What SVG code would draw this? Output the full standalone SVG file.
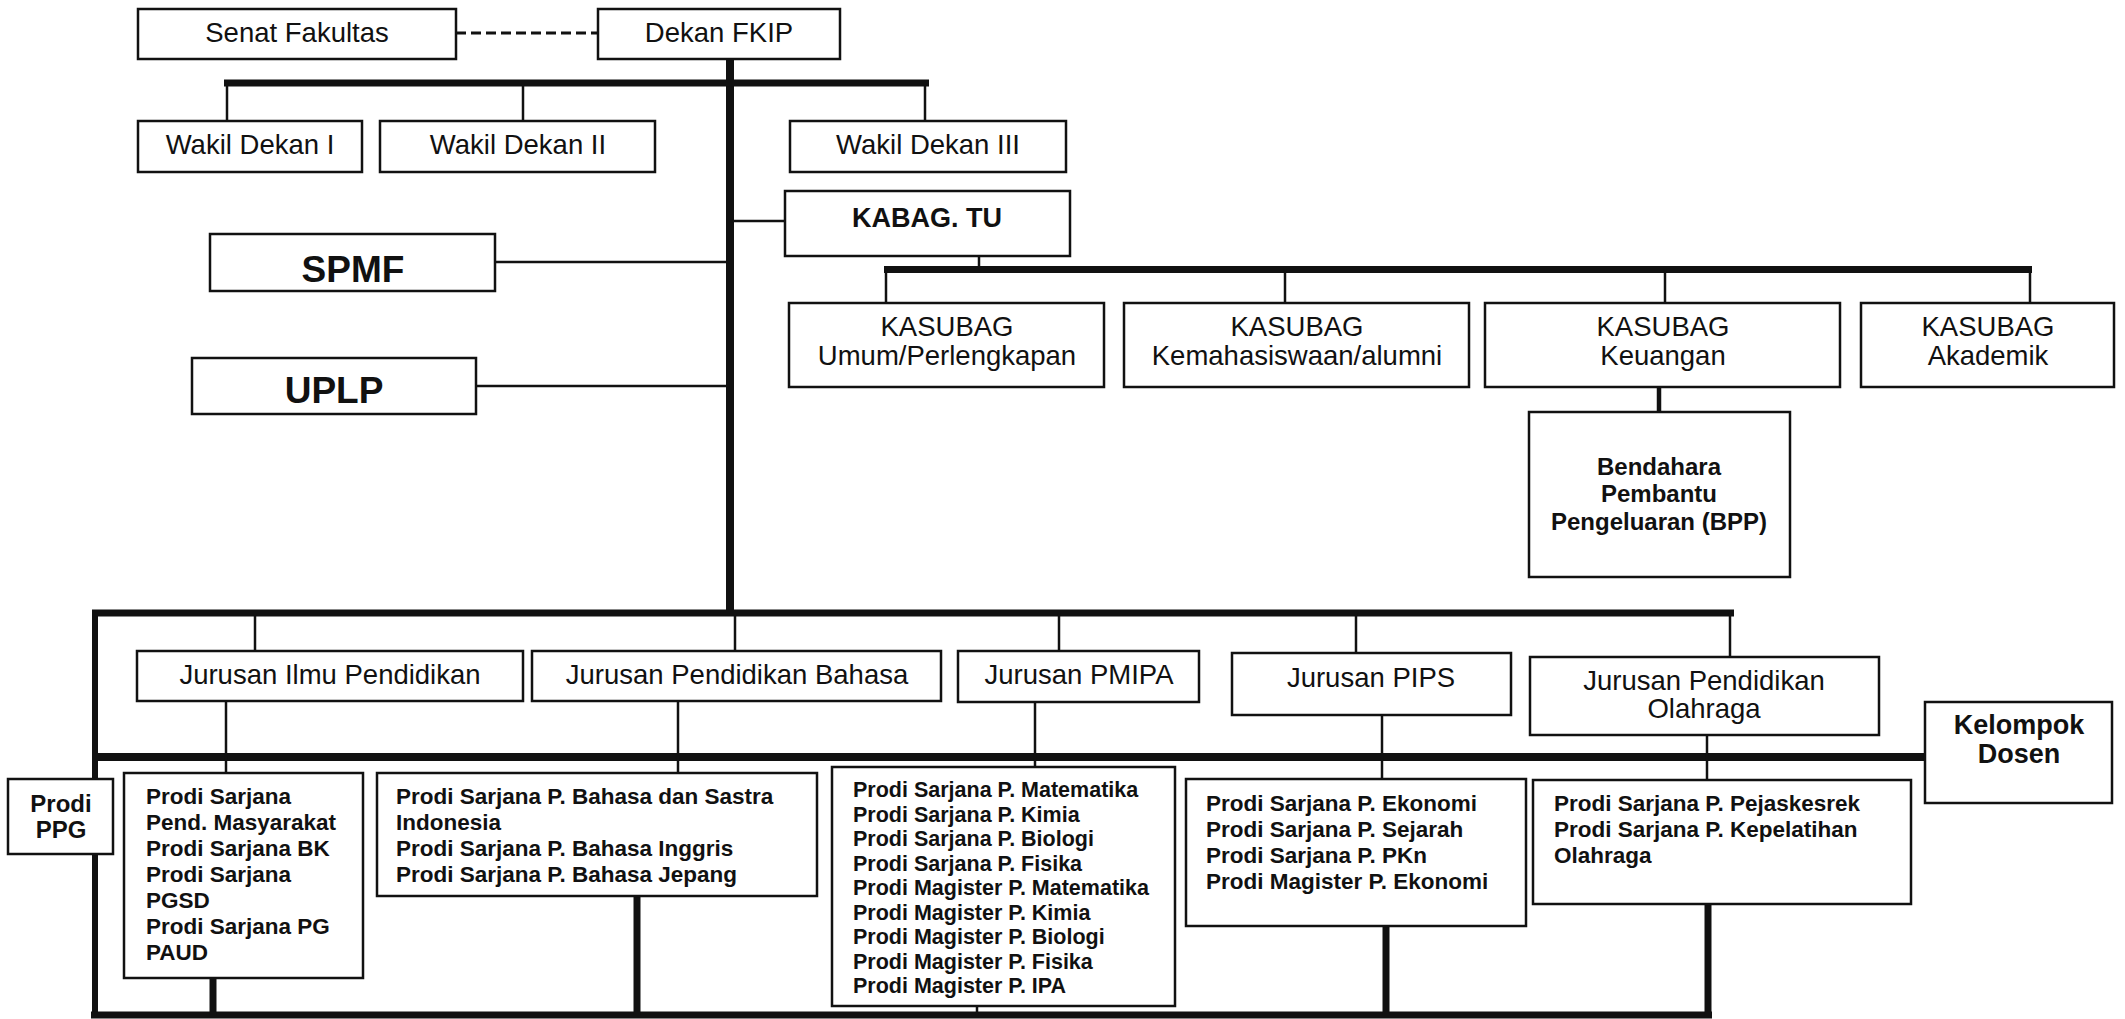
<svg xmlns="http://www.w3.org/2000/svg" width="2125" height="1019" viewBox="0 0 2125 1019">
<style>
.box{fill:#fff;stroke:#111;stroke-width:2.5}
.t{font-family:"Liberation Sans",Arial,sans-serif;font-size:27.5px;fill:#111;text-anchor:middle}
.b{font-weight:bold}
.l{text-anchor:start}
.p{font-family:"Liberation Sans",Arial,sans-serif;font-size:22.5px;font-weight:bold;fill:#111}
.pm{font-size:21.5px}
.thin{stroke:#111;stroke-width:2.5;fill:none}
.thick{stroke:#111;stroke-width:7;fill:none}
.dash{stroke:#111;stroke-width:3;stroke-dasharray:10 5;fill:none}
</style>
<rect width="2125" height="1019" fill="#fff"/>
<g id="connectors">
<line class="dash" x1="456" y1="33" x2="598" y2="33"/>
<line class="thick" x1="730" y1="59" x2="730" y2="616" style="stroke-width:8"/>
<line class="thick" x1="224" y1="83" x2="929" y2="83"/>
<line class="thin" x1="227" y1="83" x2="227" y2="121"/>
<line class="thin" x1="523" y1="83" x2="523" y2="121"/>
<line class="thin" x1="925" y1="83" x2="925" y2="121"/>
<line class="thin" x1="730" y1="221" x2="785" y2="221"/>
<line class="thin" x1="495" y1="262" x2="730" y2="262"/>
<line class="thin" x1="476" y1="386" x2="730" y2="386"/>
<line class="thin" x1="979" y1="256" x2="979" y2="269"/>
<line class="thick" x1="884" y1="269.5" x2="2032" y2="269.5"/>
<line class="thin" x1="886" y1="269" x2="886" y2="303"/>
<line class="thin" x1="1285" y1="269" x2="1285" y2="303"/>
<line class="thin" x1="1665" y1="269" x2="1665" y2="303"/>
<line class="thin" x1="2030" y1="269" x2="2030" y2="303"/>
<line class="thin" x1="1659" y1="387" x2="1659" y2="412" style="stroke-width:4.5"/>
<line class="thick" x1="92" y1="613" x2="1734" y2="613"/>
<line class="thick" x1="95" y1="610" x2="95" y2="1018" style="stroke-width:6"/>
<line class="thick" x1="92" y1="757" x2="1925" y2="757" style="stroke-width:8"/>
<line class="thin" x1="255" y1="613" x2="255" y2="651"/>
<line class="thin" x1="735" y1="613" x2="735" y2="651"/>
<line class="thin" x1="1059" y1="613" x2="1059" y2="651"/>
<line class="thin" x1="1356" y1="613" x2="1356" y2="653"/>
<line class="thin" x1="1730" y1="613" x2="1730" y2="657"/>
<line class="thin" x1="226" y1="701" x2="226" y2="773"/>
<line class="thin" x1="678" y1="701" x2="678" y2="773"/>
<line class="thin" x1="1035" y1="702" x2="1035" y2="767"/>
<line class="thin" x1="1382" y1="715" x2="1382" y2="779"/>
<line class="thin" x1="1707" y1="735" x2="1707" y2="780"/>
<line class="thick" x1="91" y1="1015" x2="1712" y2="1015"/>
<line class="thick" x1="213" y1="978" x2="213" y2="1015"/>
<line class="thick" x1="637" y1="896" x2="637" y2="1015"/>
<line class="thick" x1="1386" y1="926" x2="1386" y2="1015"/>
<line class="thick" x1="1708" y1="904" x2="1708" y2="1015"/>
<line class="thin" x1="977" y1="1006" x2="977" y2="1015"/>
</g>
<g id="senat"><rect class="box" x="138" y="9" width="318" height="50"/><text class="t" x="297" y="42">Senat Fakultas</text></g>
<g id="dekan"><rect class="box" x="598" y="9" width="242" height="50"/><text class="t" x="719" y="42">Dekan FKIP</text></g>
<g id="wd1"><rect class="box" x="138" y="121" width="224" height="51"/><text class="t" x="250" y="154">Wakil Dekan I</text></g>
<g id="wd2"><rect class="box" x="380" y="121" width="275" height="51"/><text class="t" x="518" y="154">Wakil Dekan II</text></g>
<g id="wd3"><rect class="box" x="790" y="121" width="276" height="51"/><text class="t" x="928" y="154">Wakil Dekan III</text></g>
<g id="kabag"><rect class="box" x="785" y="191" width="285" height="65"/><text class="t b" x="927" y="227" style="font-size:27px">KABAG. TU</text></g>
<g id="spmf"><rect class="box" x="210" y="234" width="285" height="57"/><text class="t b" x="353" y="282" style="font-size:37px">SPMF</text></g>
<g id="uplp"><rect class="box" x="192" y="358" width="284" height="56"/><text class="t b" x="334" y="403" style="font-size:37px">UPLP</text></g>
<g id="kasubag-umum"><rect class="box" x="789" y="303" width="315" height="84"/><text class="t" x="947" y="336">KASUBAG</text><text class="t" x="947" y="365">Umum/Perlengkapan</text></g>
<g id="kasubag-kemahasiswaan"><rect class="box" x="1124" y="303" width="345" height="84"/><text class="t" x="1297" y="336">KASUBAG</text><text class="t" x="1297" y="365">Kemahasiswaan/alumni</text></g>
<g id="kasubag-keuangan"><rect class="box" x="1485" y="303" width="355" height="84"/><text class="t" x="1663" y="336">KASUBAG</text><text class="t" x="1663" y="365">Keuangan</text></g>
<g id="kasubag-akademik"><rect class="box" x="1861" y="303" width="253" height="84"/><text class="t" x="1988" y="336">KASUBAG</text><text class="t" x="1988" y="365">Akademik</text></g>
<g id="bpp"><rect class="box" x="1529" y="412" width="261" height="165"/><text class="t b" x="1659" y="475" style="font-size:24px">Bendahara</text><text class="t b" x="1659" y="502" style="font-size:24px">Pembantu</text><text class="t b" x="1659" y="530" style="font-size:24px">Pengeluaran (BPP)</text></g>
<g id="jurusan-ip"><rect class="box" x="137" y="651" width="386" height="50"/><text class="t" x="330" y="684">Jurusan Ilmu Pendidikan</text></g>
<g id="jurusan-bahasa"><rect class="box" x="532" y="651" width="409" height="50"/><text class="t" x="737" y="684">Jurusan Pendidikan Bahasa</text></g>
<g id="jurusan-pmipa"><rect class="box" x="958" y="651" width="241" height="51"/><text class="t" x="1079" y="684">Jurusan PMIPA</text></g>
<g id="jurusan-pips"><rect class="box" x="1232" y="653" width="279" height="62"/><text class="t" x="1371" y="687">Jurusan PIPS</text></g>
<g id="jurusan-olahraga"><rect class="box" x="1530" y="657" width="349" height="78"/><text class="t" x="1704" y="690">Jurusan Pendidikan</text><text class="t" x="1704" y="718">Olahraga</text></g>
<g id="kelompok-dosen"><rect class="box" x="1925" y="702" width="187" height="101"/><text class="t b" x="2019" y="734" style="font-size:27px">Kelompok</text><text class="t b" x="2019" y="763" style="font-size:27px">Dosen</text></g>
<g id="prodi-ppg"><rect class="box" x="8" y="779" width="105" height="75"/><text class="t b" x="61" y="812" style="font-size:24px">Prodi</text><text class="t b" x="61" y="838" style="font-size:24px">PPG</text></g>
<g id="prodi-ip"><rect class="box" x="124" y="773" width="239" height="205"/>
<text class="p" x="146" y="804">Prodi Sarjana</text>
<text class="p" x="146" y="830">Pend. Masyarakat</text>
<text class="p" x="146" y="856">Prodi Sarjana BK</text>
<text class="p" x="146" y="882">Prodi Sarjana</text>
<text class="p" x="146" y="908">PGSD</text>
<text class="p" x="146" y="934">Prodi Sarjana PG</text>
<text class="p" x="146" y="960">PAUD</text></g>
<g id="prodi-bahasa"><rect class="box" x="377" y="773" width="440" height="123"/>
<text class="p" x="396" y="804">Prodi Sarjana P. Bahasa dan Sastra</text>
<text class="p" x="396" y="830">Indonesia</text>
<text class="p" x="396" y="856">Prodi Sarjana P. Bahasa Inggris</text>
<text class="p" x="396" y="882">Prodi Sarjana P. Bahasa Jepang</text></g>
<g id="prodi-pmipa"><rect class="box" x="832" y="767" width="343" height="239"/>
<text class="p pm" x="853" y="797">Prodi Sarjana P. Matematika</text>
<text class="p pm" x="853" y="821.5">Prodi Sarjana P. Kimia</text>
<text class="p pm" x="853" y="846">Prodi Sarjana P. Biologi</text>
<text class="p pm" x="853" y="870.5">Prodi Sarjana P. Fisika</text>
<text class="p pm" x="853" y="895">Prodi Magister P. Matematika</text>
<text class="p pm" x="853" y="919.5">Prodi Magister P. Kimia</text>
<text class="p pm" x="853" y="944">Prodi Magister P. Biologi</text>
<text class="p pm" x="853" y="968.5">Prodi Magister P. Fisika</text>
<text class="p pm" x="853" y="993">Prodi Magister P. IPA</text></g>
<g id="prodi-pips"><rect class="box" x="1186" y="779" width="340" height="147"/>
<text class="p" x="1206" y="811">Prodi Sarjana P. Ekonomi</text>
<text class="p" x="1206" y="837">Prodi Sarjana P. Sejarah</text>
<text class="p" x="1206" y="863">Prodi Sarjana P. PKn</text>
<text class="p" x="1206" y="889">Prodi Magister P. Ekonomi</text></g>
<g id="prodi-olahraga"><rect class="box" x="1533" y="780" width="378" height="124"/>
<text class="p" x="1554" y="811">Prodi Sarjana P. Pejaskesrek</text>
<text class="p" x="1554" y="837">Prodi Sarjana P. Kepelatihan</text>
<text class="p" x="1554" y="863">Olahraga</text></g>
</svg>
